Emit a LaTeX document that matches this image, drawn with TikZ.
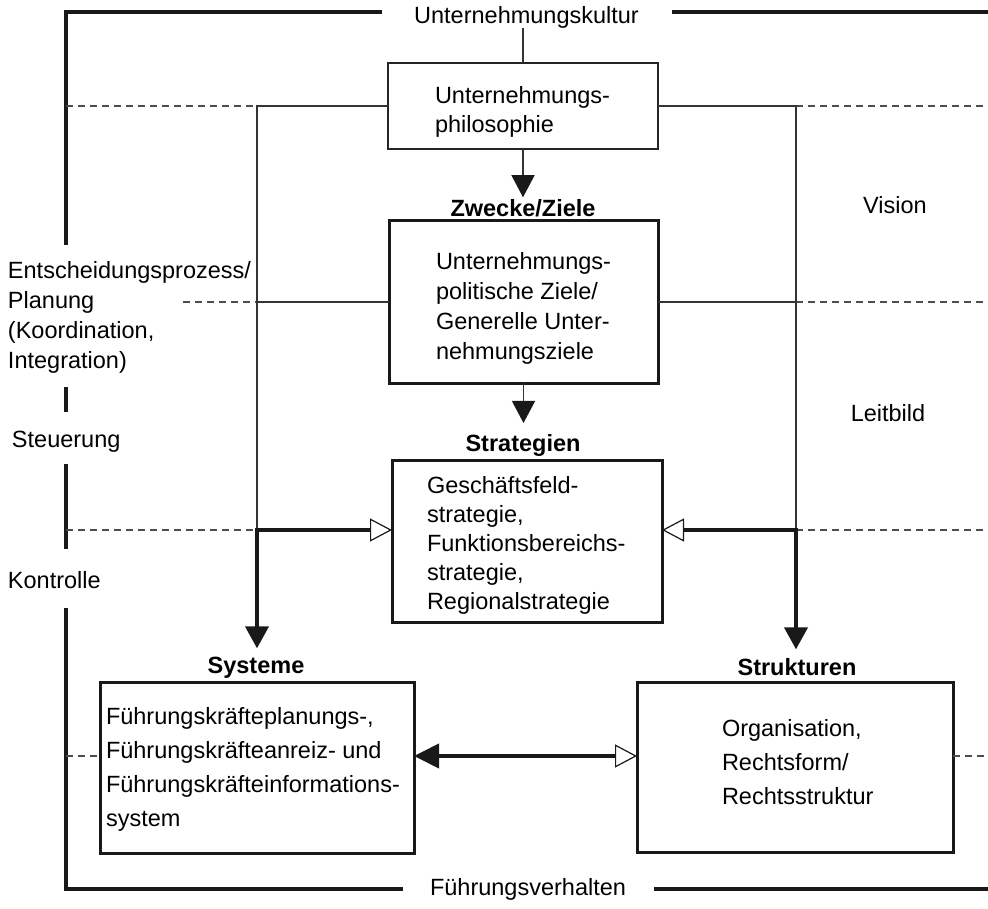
\documentclass[tikz,border=0pt]{standalone}
\usepackage{fontspec}
\setmainfont{Liberation Sans}
\usetikzlibrary{arrows.meta,calc}
\begin{document}
\begin{tikzpicture}[x=1pt,y=-1pt,
  every node/.style={inner sep=0pt, outer sep=0pt, font=\fontsize{23.5}{29}\selectfont},
  frame/.style={line width=3.2pt, black!90},
  thinline/.style={line width=1.2pt, black!80},
  guide/.style={line width=1.2pt, black!70, dash pattern=on 7pt off 5pt},
  thickbox/.style={draw=black!90, line width=3pt},
  thinbox/.style={draw=black!85, line width=1.4pt},
  txt/.style={align=left, anchor=west},
  lbl/.style={font=\fontsize{23.5}{29}\selectfont\bfseries},
  flow/.style={line width=4pt, black!90},
  solidtip/.style={-{Triangle[length=22pt,width=23pt,color=black!90]}},
  opentip/.style={-{Triangle[open,length=22pt,width=23pt,line width=1.2pt,fill=white]}},
]
\useasboundingbox (0,0) rectangle (988,909);

% boxes
\node[thinbox, minimum width=270pt, minimum height=86pt] (philo) at (523,106) {};
\node[txt] (philoText) at (435,112) {Unternehmungs-\\philosophie};

\node[thickbox, minimum width=269pt, minimum height=162pt] (ziele) at (523.5,302) {};
\node[txt, font=\fontsize{23.5}{30}\selectfont] (zieleText) at (436,308)
  {Unternehmungs-\\politische Ziele/\\Generelle Unter-\\nehmungsziele};

\node[thickbox, minimum width=270pt, minimum height=162pt] (strat) at (527,541) {};
\node[txt] (stratText) at (427,545)
  {Geschäftsfeld-\\strategie,\\Funktionsbereichs-\\strategie,\\Regionalstrategie};

\node[thickbox, minimum width=314pt, minimum height=171pt] (syst) at (257,767.5) {};
\node[txt, font=\fontsize{23.5}{34}\selectfont] (systText) at (106,769)
  {Führungskräfteplanungs-,\\Führungskräfteanreiz- und\\Führungskräfteinformations-\\system};

\node[thickbox, minimum width=316pt, minimum height=170pt] (strukt) at (795,767) {};
\node[txt, font=\fontsize{23.5}{34}\selectfont] (struktText) at (722,762)
  {Organisation,\\Rechtsform/\\Rechtsstruktur};

% headings above the boxes
\node[lbl] (zweckeLbl) at (523,208) {Zwecke/Ziele};
\node[lbl] (stratLbl) at (523,445) {Strategien};
\node[lbl] (systLbl) at (256,668) {Systeme};
\node[lbl] (struktLbl) at (797,667) {Strukturen};

% side texts
\node (kultur) at (526.5,17) {Unternehmungskultur};
\node (verhalten) at (528,889) {Führungsverhalten};
\node (vision) at (895,205) {Vision};
\node (leitbild) at (888,413) {Leitbild};
\node[txt, font=\fontsize{23.5}{30}\selectfont] (planung) at (8,317)
  {Entscheidungsprozess/\\Planung\\(Koordination,\\Integration)};
\node[txt] (steuerung) at (12,442) {Steuerung};
\node[txt] (kontrolle) at (8,580) {Kontrolle};

% outer frame
\draw[frame] (382,12) -- (66,12) -- (66,245);
\draw[frame] (672,12) -- (988,12);
\draw[frame] (66,387) -- (66,412);
\draw[frame] (66,464) -- (66,549);
\draw[frame] (66,608) -- (66,889) -- (403,889);
\draw[frame] (654,889) -- (988,889);

% corner points of the side branches
\coordinate (pL) at (257,106);
\coordinate (pR) at (796,106);
\coordinate (cL) at (257,530);
\coordinate (cR) at (796,530);

% dashed level lines
\draw[guide] (66,106) -- (pL);
\draw[guide] (pR) -- (988,106);
\draw[guide] (183,302) -- (257,302);
\draw[thinline] (257,302) -- (ziele.west);
\draw[thinline] (ziele.east) -- (796,302);
\draw[guide] (796,302) -- (988,302);
\draw[guide] (66,530) -- (cL);
\draw[guide] (cR) -- (988,530);
\draw[guide] (66,756) -- ([yshift=11.5pt]syst.west);
\draw[guide] ([yshift=11pt]strukt.east) -- (988,756);

% thin connectors
\draw[thinline] (philo.north |- kultur.south) -- (philo.north);
\draw[thinline] (philo.west) -- (pL) -- (cL);
\draw[thinline] (philo.east) -- (pR) -- (cR);
\draw[thinline, solidtip, shorten >=2pt] (philo.south) -- (zweckeLbl.north);
\draw[thinline, solidtip, shorten >=11pt] (ziele.south) -- (ziele.south |- stratLbl.north);

% thick flows
\draw[flow, line cap=rect, opentip] (cL) -- ([yshift=11pt]strat.west);
\draw[flow, solidtip, shorten >=9pt] (cL) -- (cL |- systLbl.north);
\draw[flow, line cap=rect, opentip] (cR) -- ([yshift=11pt]strat.east);
\draw[flow, solidtip, shorten >=9pt] (cR) -- (cR |- struktLbl.north);
\draw[flow, {Triangle[length=25pt,width=24pt,color=black!90]}-{Triangle[open,length=22pt,width=23pt,line width=1.2pt,fill=white]}]
  ([yshift=11.5pt]syst.east) -- ([yshift=11pt]strukt.west);
\end{tikzpicture}
\end{document}
